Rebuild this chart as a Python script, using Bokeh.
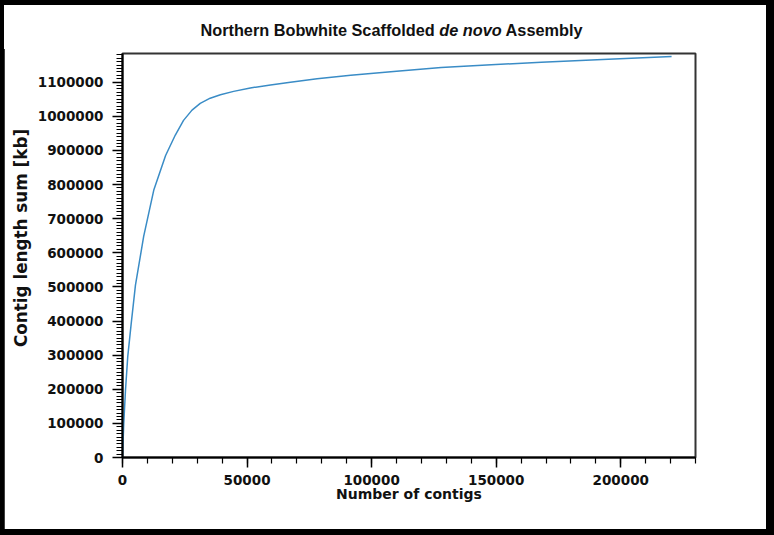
from bokeh.plotting import figure
from bokeh.layouts import column
from bokeh.models import Range1d, SingleIntervalTicker, BasicTickFormatter, Div
from bokeh.embed import file_html
from bokeh.resources import INLINE

# Data (number of contigs vs cumulative contig length in kb)
contigs = [0, 500, 1200, 2100, 3500, 5200, 8500, 12600, 17300, 21200, 24500, 27900,
           31200, 35200, 39300, 44600, 51300, 59400, 67400, 78100, 91600, 110000,
           127900, 148000, 168100, 195000, 220400]
cum_kb = [0, 99000, 197000, 295000, 393000, 505000, 648000, 785000, 885000, 945000,
          988000, 1018000, 1038000, 1053000, 1063000, 1073000, 1083000, 1092000,
          1100000, 1110000, 1120000, 1132000, 1143000, 1151000, 1158000, 1167000,
          1175000]

title_html = "Northern Bobwhite Scaffolded <i>de novo</i> Assembly"
x_label = "Number of contigs"
y_label = "Contig length sum [kb]"

INNER_W = 762
TITLE_H = 40
H = 484

title = Div(text=title_html, width=INNER_W, height=TITLE_H, margin=(5, 8, 0, 4),
            styles={"font-family": "'Liberation Sans', Arial, sans-serif",
                    "font-size": "16.3px", "font-weight": "bold", "color": "#111111",
                    "background-color": "white",
                    "box-shadow": "0 4px 0 0 white",
                    "text-align": "center", "padding-left": "13px",
                    "box-sizing": "border-box", "line-height": "50px"})

p = figure(width=INNER_W, height=H, output_backend="svg", toolbar_location=None,
           x_range=Range1d(0, 230000), y_range=Range1d(0, 1184000),
           min_border_left=118, min_border_right=71,
           min_border_top=8, min_border_bottom=72, margin=(0, 8, 6, 4))
p.background_fill_color = "white"
p.border_fill_color = "white"
p.outline_line_color = "#333333"
p.outline_line_width = 2
p.grid.visible = False

p.line(contigs, cum_kb, line_color="#3a8cc6", line_width=1.5)

for ax in (p.xaxis[0], p.yaxis[0]):
    ax.axis_line_color = "black"
    ax.axis_line_width = 2
    ax.major_tick_line_color = "black"
    ax.minor_tick_line_color = "black"
    ax.major_tick_line_width = 1.5
    ax.minor_tick_line_width = 1.2
    ax.major_tick_out = 10
    ax.major_tick_in = 0
    ax.minor_tick_out = 6
    ax.minor_tick_in = 0
    ax.major_label_text_font = "DejaVu Sans"
    ax.major_label_text_font_style = "bold"
    ax.major_label_text_font_size = "13.5px"
    ax.major_label_text_color = "#111111"
    ax.formatter = BasicTickFormatter(use_scientific=False)
    ax.axis_label_text_font = "DejaVu Sans"
    ax.axis_label_text_font_style = "bold"
    ax.axis_label_text_color = "#111111"

p.xaxis[0].ticker = SingleIntervalTicker(interval=50000, num_minor_ticks=5)
p.yaxis[0].ticker = SingleIntervalTicker(interval=100000, num_minor_ticks=10)
p.xaxis[0].major_label_standoff = 7
p.yaxis[0].major_label_standoff = 9

p.xaxis[0].axis_label = x_label
p.xaxis[0].axis_label_text_font_size = "14px"
p.xaxis[0].axis_label_standoff = -2

# leading no-break spaces lift the centred label a little, as in the reference
p.yaxis[0].axis_label = "\u00a0" * 6 + y_label
p.yaxis[0].axis_label_text_font_size = "16.8px"
p.yaxis[0].axis_label_standoff = 4

# black picture frame around the white chart area
layout = column(title, p, spacing=0, styles={"background-color": "black"})

open("out.html", "w").write(file_html(layout, INLINE))
